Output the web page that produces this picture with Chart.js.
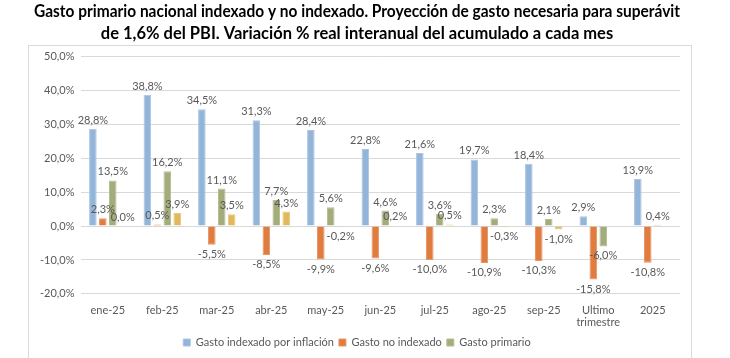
<!DOCTYPE html>
<html lang="es">
<head>
<meta charset="utf-8">
<title>Gasto primario indexado y no indexado</title>
<script src="https://cdn.jsdelivr.net/npm/chart.js@4.4.1/dist/chart.umd.min.js"></script>
<style>
  html, body { margin: 0; padding: 0; background: #ffffff; }
  #wrap { width: 730px; height: 358px; }
</style>
</head>
<body>
<div id="wrap"><canvas id="graficoGasto" width="730" height="358"></canvas></div>
<script>
// Datos
const categorias = ['ene-25', 'feb-25', 'mar-25', 'abr-25', 'may-25', 'jun-25', 'jul-25', 'ago-25', 'sep-25', ['Ultimo', 'trimestre'], '2025'];
const gastoIndexado = [28.8, 38.8, 34.5, 31.3, 28.4, 22.8, 21.6, 19.7, 18.4, 2.9, 13.9];
const gastoNoIndexado = [2.3, 0.5, -5.5, -8.5, -9.9, -9.6, -10.0, -10.9, -10.3, -15.8, -10.8];
const gastoPrimario = [13.5, 16.2, 11.1, 7.7, 5.6, 4.6, 3.6, 2.3, 2.1, -6.0, 0.4];
const gastoProyectado = [0.0, 3.9, 3.5, 4.3, -0.2, 0.2, 0.5, -0.3, -1.0, null, null];
const ticksY = [-20, -10, 0, 10, 20, 30, 40, 50];

const FUENTE = "Lato, 'Open Sans', sans-serif";
const GRIS = '#595959';

function formatoPct(v) {
  return v.toFixed(1).replace('.', ',') + '%';
}

// etiquetas de valor encima/debajo de cada barra
const etiquetasBarras = {
  id: 'etiquetasBarras',
  afterDatasetsDraw(chart) {
    const ctx = chart.ctx;
    ctx.save();
    ctx.font = '11px ' + FUENTE;
    ctx.fillStyle = GRIS;
    ctx.textAlign = 'center';
    chart.data.datasets.forEach((ds, i) => {
      const meta = chart.getDatasetMeta(i);
      meta.data.forEach((bar, j) => {
        const v = ds.data[j];
        if (v === null || v === undefined) return;
        if (v >= 0) {
          ctx.textBaseline = 'bottom';
          ctx.fillText(formatoPct(v), bar.x, bar.y - 3);
        } else {
          ctx.textBaseline = 'top';
          ctx.fillText(formatoPct(v), bar.x, bar.y + 4);
        }
      });
    });
    ctx.restore();
  }
};

// marco gris alrededor del area del grafico
const marco = {
  id: 'marco',
  beforeDraw(chart) {
    const ctx = chart.ctx;
    ctx.save();
    ctx.strokeStyle = '#d9d9d9';
    ctx.lineWidth = 1;
    ctx.strokeRect(28.5, 45.5, 663, 330);
    ctx.restore();
  }
};

const ctx1 = document.getElementById('graficoGasto').getContext('2d');
new Chart(ctx1, {
  type: 'bar',
  data: {
    labels: categorias,
    datasets: [
      { label: 'Gasto indexado por inflación', data: gastoIndexado, backgroundColor: '#93b5d9', borderColor: '#a9c4e2', borderWidth: 1 },
      { label: 'Gasto no indexado', data: gastoNoIndexado, backgroundColor: '#e07c3e', borderColor: '#e8966a', borderWidth: 1 },
      { label: 'Gasto primario', data: gastoPrimario, backgroundColor: '#a3ad7c', borderColor: '#b6be93', borderWidth: 1 },
      { label: 'Gasto proyectado', data: gastoProyectado, backgroundColor: '#e2b85c', borderColor: '#ebc87e', borderWidth: 1 }
    ]
  },
  options: {
    responsive: false,
    animation: false,
    devicePixelRatio: 1,
    layout: { padding: { left: 34, right: 50, top: 0, bottom: 0 } },
    datasets: {
      bar: { categoryPercentage: 0.73, barPercentage: 0.76 }
    },
    plugins: {
      title: {
        display: true,
        text: ['Gasto primario nacional indexado y no indexado. Proyección de gasto necesaria para superávit', 'de 1,6% del PBI. Variación % real interanual del acumulado a cada mes'],
        color: '#000000',
        font: { family: FUENTE, size: 16.5, weight: 'bold', lineHeight: 1.3 },
        padding: { top: 1, bottom: 13 }
      },
      legend: {
        position: 'bottom',
        labels: {
          filter: (item) => item.datasetIndex < 3,
          boxWidth: 7,
          boxHeight: 7,
          color: GRIS,
          font: { family: FUENTE, size: 11 },
          padding: 5
        }
      },
      tooltip: { enabled: false }
    },
    scales: {
      x: {
        grid: { display: false },
        border: { display: false },
        ticks: { color: GRIS, font: { family: FUENTE, size: 11, lineHeight: 1.1 }, maxRotation: 0, padding: 3 }
      },
      y: {
        min: ticksY[0],
        max: ticksY[ticksY.length - 1],
        afterBuildTicks: (axis) => { axis.ticks = ticksY.map(v => ({ value: v })); },
        grid: { color: '#d9d9d9', drawTicks: false },
        border: { display: false },
        ticks: { color: GRIS, font: { family: FUENTE, size: 11 }, padding: 6, callback: (v) => formatoPct(v) }
      }
    }
  },
  plugins: [marco, etiquetasBarras]
});
</script>
</body>
</html>
